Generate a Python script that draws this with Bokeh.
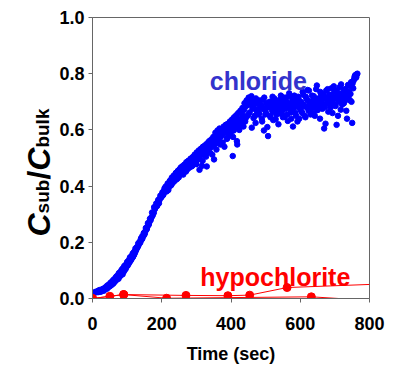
import math
from bokeh.plotting import figure
from bokeh.layouts import row
from bokeh.models import Range1d, FixedTicker, PrintfTickFormatter, Label
from bokeh.core.properties import value
from bokeh.embed import file_html
from bokeh.resources import INLINE

# ---------------- data ----------------
x_ticks = [0, 200, 400, 600, 800]
y_ticks = [0.0, 0.2, 0.4, 0.6, 0.8, 1.0]

# chloride, first set of readings
chloride_t = [
    6, 9, 12, 15, 18, 21, 24, 27, 30, 33,
    36, 39, 42, 45, 48, 51, 54, 57, 60, 63,
    66, 69, 72, 75, 78, 81, 84, 87, 90, 93,
    96, 99, 102, 105, 108, 111, 114, 117, 120, 123,
    126, 129, 132, 135, 138, 141, 144, 147, 150, 153,
    156, 159, 162, 165, 168, 171, 174, 177, 180, 183,
    186, 189, 192, 195, 198, 201, 204, 207, 210, 213,
    216, 219, 222, 225, 228, 231, 234, 237, 240, 243,
    246, 249, 252, 255, 258, 261, 264, 267, 270, 273,
    276, 279, 282, 285, 288, 291, 294, 297, 300, 303,
    306, 309, 312, 315, 318, 321, 324, 327, 330, 333,
    336, 339, 342, 345, 348, 351, 354, 357, 360, 363,
    366, 369, 372, 375, 378, 381, 384, 387, 390, 393,
    396, 399, 402, 405, 408, 411, 414, 417, 420, 423,
    426, 429, 432, 435, 438, 441, 444, 447, 450, 453,
    456, 459, 462, 465, 468, 471, 474, 477, 480, 483,
    486, 489, 492, 495, 498, 501, 504, 507, 510, 513,
    516, 519, 522, 525, 528, 531, 534, 537, 540, 543,
    546, 549, 552, 555, 558, 561, 564, 567, 570, 573,
    576, 579, 582, 585, 588, 591, 594, 597, 600, 603,
    606, 609, 612, 615, 618, 621, 624, 627, 630, 633,
    636, 639, 642, 645, 648, 651, 654, 657, 660, 663,
    666, 669, 672, 675, 678, 681, 684, 687, 690, 693,
    696, 699, 702, 705, 708, 711, 714, 717, 720, 723,
    726, 729, 732, 735, 738, 741, 744, 747, 750, 753,
    756, 759, 762, 765,
]
chloride_c = [
    0.021, 0.024, 0.022, 0.025, 0.023, 0.026, 0.024, 0.027, 0.029, 0.028,
    0.033, 0.036, 0.035, 0.040, 0.042, 0.045, 0.047, 0.051, 0.053, 0.058,
    0.062, 0.066, 0.071, 0.070, 0.078, 0.081, 0.088, 0.086, 0.095, 0.101,
    0.106, 0.114, 0.118, 0.125, 0.131, 0.136, 0.143, 0.148, 0.155, 0.163,
    0.172, 0.180, 0.186, 0.195, 0.199, 0.208, 0.213, 0.222, 0.228, 0.240,
    0.246, 0.257, 0.262, 0.275, 0.279, 0.290, 0.296, 0.305, 0.318, 0.326,
    0.333, 0.345, 0.339, 0.356, 0.362, 0.371, 0.368, 0.384, 0.391, 0.394,
    0.402, 0.386, 0.412, 0.420, 0.405, 0.428, 0.436, 0.418, 0.445, 0.440,
    0.452, 0.431, 0.458, 0.466, 0.444, 0.470, 0.462, 0.476, 0.452, 0.481,
    0.488, 0.465, 0.492, 0.498, 0.472, 0.503, 0.495, 0.510, 0.478, 0.508,
    0.515, 0.458, 0.522, 0.530, 0.490, 0.512, 0.538, 0.527, 0.470, 0.541,
    0.548, 0.520, 0.556, 0.540, 0.563, 0.495, 0.571, 0.552, 0.585, 0.560,
    0.578, 0.548, 0.590, 0.583, 0.600, 0.540, 0.595, 0.608, 0.572, 0.603,
    0.612, 0.590, 0.618, 0.507, 0.598, 0.625, 0.610, 0.560, 0.632, 0.620,
    0.640, 0.615, 0.660, 0.648, 0.672, 0.630, 0.685, 0.700, 0.655, 0.690,
    0.710, 0.720, 0.675, 0.642, 0.695, 0.625, 0.668, 0.702, 0.655, 0.685,
    0.680, 0.640, 0.706, 0.598, 0.672, 0.660, 0.695, 0.578, 0.688, 0.650,
    0.700, 0.668, 0.635, 0.712, 0.682, 0.655, 0.695, 0.620, 0.678, 0.708,
    0.660, 0.690, 0.715, 0.648, 0.675, 0.700, 0.632, 0.685, 0.720, 0.662,
    0.695, 0.612, 0.678, 0.705, 0.650, 0.688, 0.718, 0.640, 0.672, 0.698,
    0.660, 0.725, 0.685, 0.645, 0.710, 0.742, 0.668, 0.692, 0.655, 0.702,
    0.680, 0.720, 0.650, 0.698, 0.758, 0.672, 0.705, 0.640, 0.728, 0.690,
    0.712, 0.605, 0.682, 0.740, 0.700, 0.665, 0.725, 0.690, 0.748, 0.660,
    0.710, 0.735, 0.685, 0.618, 0.722, 0.700, 0.752, 0.672, 0.730, 0.712,
    0.695, 0.745, 0.720, 0.640, 0.760, 0.735, 0.705, 0.770, 0.625, 0.748,
    0.782, 0.795, 0.788, 0.800,
]

# chloride, second (interleaved) set of readings
chloride_t2 = [
    151, 154, 157, 160, 163, 166, 169, 172, 175, 178,
    181, 184, 187, 190, 193, 196, 199, 202, 205, 208,
    211, 214, 217, 220, 223, 226, 229, 232, 235, 238,
    241, 244, 247, 250, 253, 256, 259, 262, 265, 268,
    271, 274, 277, 280, 283, 286, 289, 292, 295, 298,
    301, 304, 307, 310, 313, 316, 319, 322, 325, 328,
    331, 334, 337, 340, 343, 346, 349, 352, 355, 358,
    361, 364, 367, 370, 373, 376, 379, 382, 385, 388,
    391, 394, 397, 400, 403, 406, 409, 412, 415, 418,
    421, 424, 427, 430, 433, 436, 439, 442, 445, 448,
    451, 454, 457, 460, 463, 466, 469, 472, 475, 478,
    481, 484, 487, 490, 493, 496, 499, 502, 505, 508,
    511, 514, 517, 520, 523, 526, 529, 532, 535, 538,
    541, 544, 547, 550, 553, 556, 559, 562, 565, 568,
    571, 574, 577, 580, 583, 586, 589, 592, 595, 598,
    601, 604, 607, 610, 613, 616, 619, 622, 625, 628,
    631, 634, 637, 640, 643, 646, 649, 652, 655, 658,
    661, 664, 667, 670, 673, 676, 679, 682, 685, 688,
    691, 694, 697, 700, 703, 706, 709, 712, 715, 718,
    721, 724, 727, 730, 733, 736, 739, 742, 745, 748,
    751, 754, 757, 760, 763,
]
chloride_c2 = [
    0.232, 0.251, 0.248, 0.268, 0.266, 0.284, 0.287, 0.306, 0.304, 0.325,
    0.322, 0.338, 0.330, 0.351, 0.349, 0.366, 0.360, 0.378, 0.372, 0.392,
    0.398, 0.381, 0.409, 0.395, 0.418, 0.402, 0.430, 0.412, 0.437, 0.421,
    0.447, 0.425, 0.455, 0.438, 0.462, 0.448, 0.470, 0.441, 0.476, 0.458,
    0.485, 0.460, 0.490, 0.476, 0.497, 0.470, 0.503, 0.488, 0.512, 0.480,
    0.520, 0.494, 0.527, 0.505, 0.533, 0.472, 0.540, 0.515, 0.545, 0.505,
    0.552, 0.525, 0.560, 0.538, 0.566, 0.512, 0.575, 0.548, 0.590, 0.530,
    0.598, 0.562, 0.605, 0.575, 0.582, 0.555, 0.612, 0.590, 0.618, 0.568,
    0.622, 0.580, 0.630, 0.600, 0.637, 0.575, 0.645, 0.612, 0.652, 0.548,
    0.660, 0.600, 0.668, 0.628, 0.678, 0.612, 0.695, 0.640, 0.705, 0.650,
    0.715, 0.662, 0.690, 0.608, 0.700, 0.680, 0.650, 0.712, 0.670, 0.695,
    0.660, 0.705, 0.688, 0.630, 0.675, 0.715, 0.655, 0.692, 0.610, 0.680,
    0.700, 0.645, 0.685, 0.718, 0.665, 0.692, 0.638, 0.705, 0.675, 0.658,
    0.690, 0.722, 0.668, 0.645, 0.700, 0.682, 0.715, 0.655, 0.692, 0.730,
    0.675, 0.640, 0.705, 0.685, 0.722, 0.660, 0.692, 0.630, 0.712, 0.680,
    0.700, 0.665, 0.735, 0.690, 0.650, 0.718, 0.680, 0.705, 0.740, 0.672,
    0.695, 0.722, 0.660, 0.708, 0.685, 0.745, 0.670, 0.712, 0.690, 0.735,
    0.700, 0.675, 0.728, 0.690, 0.622, 0.715, 0.745, 0.695, 0.710, 0.680,
    0.725, 0.700, 0.755, 0.688, 0.715, 0.740, 0.650, 0.725, 0.705, 0.762,
    0.690, 0.720, 0.742, 0.705, 0.668, 0.735, 0.715, 0.755, 0.728, 0.700,
    0.765, 0.775, 0.790, 0.785, 0.798,
]

# chloride, third set of readings (early rise)
chloride_t3 = [
    16, 20, 24, 28, 32, 36, 40, 44, 48, 52,
    56, 60, 64, 68, 72, 76, 80, 84, 88, 92,
    96, 100, 104, 108, 112, 116, 120, 124, 128, 132,
    136, 140, 144, 148,
]
chloride_c3 = [
    0.027, 0.030, 0.028, 0.033, 0.035, 0.038, 0.043, 0.047, 0.050, 0.056,
    0.060, 0.066, 0.070, 0.077, 0.082, 0.090, 0.094, 0.102, 0.108, 0.116,
    0.120, 0.130, 0.135, 0.146, 0.150, 0.160, 0.166, 0.178, 0.183, 0.196,
    0.202, 0.214, 0.222, 0.233,
]

# hypochlorite, two runs (markers) and the line ends beyond the last marker
hypo1_t = [0, 50, 90, 270, 391, 454, 562]
hypo1_c = [0.0, 0.008, 0.014, 0.011, 0.010, 0.012, 0.039]
hypo1_tail_t = [562, 800]
hypo1_tail_c = [0.039, 0.050]
hypo2_t = [0, 90, 214, 632]
hypo2_c = [0.0, 0.014, 0.001, 0.006]
hypo2_tail_t = [632, 711]
hypo2_tail_c = [0.006, 0.0]

y_label_parts = ["C", "sub", "/", "C", "bulk"]

# ---------------- figure ----------------
FONT = "Liberation Sans"
H = 367
LW = 56                      # width of the strip holding the y-axis title
W = 400 - LW
ML, MR, MT, MB = 92 - LW, 31, 17, 69

p = figure(width=W, height=H, x_range=Range1d(0, 800), y_range=Range1d(0, 1.0),
           output_backend="svg", toolbar_location=None,
           min_border_left=ML, min_border_right=MR, min_border_top=MT, min_border_bottom=MB)
p.background_fill_color = "white"
p.border_fill_color = "white"
p.outline_line_color = "#666666"
p.grid.visible = False

for ax in (p.xaxis, p.yaxis):
    ax.axis_line_color = "#666666"
    ax.major_tick_line_color = "#666666"
    ax.minor_tick_line_color = None
    ax.major_tick_in = 0
    ax.major_tick_out = 4
    ax.major_label_text_font = FONT
    ax.major_label_text_font_style = "bold"
    ax.major_label_text_font_size = "18px"
    ax.major_label_text_color = "black"

p.xaxis.ticker = FixedTicker(ticks=x_ticks)
p.yaxis.ticker = FixedTicker(ticks=y_ticks)
p.yaxis.formatter = PrintfTickFormatter(format="%.1f")
p.xaxis.major_label_standoff = 14
p.yaxis.major_label_standoff = 4

p.xaxis.axis_label = "Time (sec)"
p.xaxis.axis_label_text_font = FONT
p.xaxis.axis_label_text_font_style = "bold"
p.xaxis.axis_label_text_font_size = "18px"
p.xaxis.axis_label_text_color = "black"
p.xaxis.axis_label_standoff = 11

# data
p.scatter(chloride_t, chloride_c, size=5.5, color="#0000ff")
p.scatter(chloride_t2, chloride_c2, size=5.5, color="#0000ff")
p.scatter(chloride_t3, chloride_c3, size=5.5, color="#0000ff")

p.line(hypo1_t, hypo1_c, line_color="#ff0000", line_width=1)
p.line(hypo1_tail_t, hypo1_tail_c, line_color="#ff0000", line_width=1)
p.line(hypo2_t, hypo2_c, line_color="#ff0000", line_width=1)
p.line(hypo2_tail_t, hypo2_tail_c, line_color="#ff0000", line_width=1)
p.scatter(hypo1_t, hypo1_c, size=8, color="#ff0000")
p.scatter(hypo2_t, hypo2_c, size=8, color="#ff0000")

# series labels
p.add_layout(Label(x=479, y=0.7725, text="chloride", text_align="center",
                   text_baseline="alphabetic", text_font=FONT, text_font_style="bold",
                   text_font_size="25px", text_color="#3333cc"))
p.add_layout(Label(x=528, y=0.076, text="hypochlorite", text_align="center",
                   text_baseline="alphabetic", text_font=FONT, text_font_style="bold",
                   text_font_size="25px", text_color="#ff0000"))

# ---------------- y-axis title strip: C_sub / C_bulk (rotated) ----------------
# the strip's frame is aligned with the main frame (page y 17..298); use page pixels
FT, FB = MT, H - MB
lf = figure(width=LW, height=H, x_range=Range1d(0, LW), y_range=Range1d(H - FB, H - FT),
            output_backend="svg", toolbar_location=None,
            min_border_left=0, min_border_right=0, min_border_top=MT, min_border_bottom=MB,
            x_axis_type=None, y_axis_type=None)
lf.outline_line_color = None
lf.grid.visible = False
lf.background_fill_color = "white"
lf.border_fill_color = "white"

big, small = 32, 19
x_main, x_sub = 38, 42          # page x of baselines
y_start = 236                   # page y where the title starts (bottom end)
styles = [("bold italic", big, x_main, 0.722),
          ("bold", small, x_sub, 1.778),
          ("bold", big, x_main, 0.278),
          ("bold italic", big, x_main, 0.722),
          ("bold", small, x_sub, 2.056)]
ycur = y_start
for txt, (style, fs, xb, em) in zip(y_label_parts, styles):
    lf.text(x=[xb], y=[H - ycur], text=[txt], angle=math.pi / 2,
            text_align="left", text_baseline="alphabetic",
            text_font=value(FONT), text_font_style=style,
            text_font_size=f"{fs}px", text_color="black")
    ycur -= em * fs

layout = row(lf, p, spacing=0)
open("out.html", "w").write(file_html(layout, INLINE))
